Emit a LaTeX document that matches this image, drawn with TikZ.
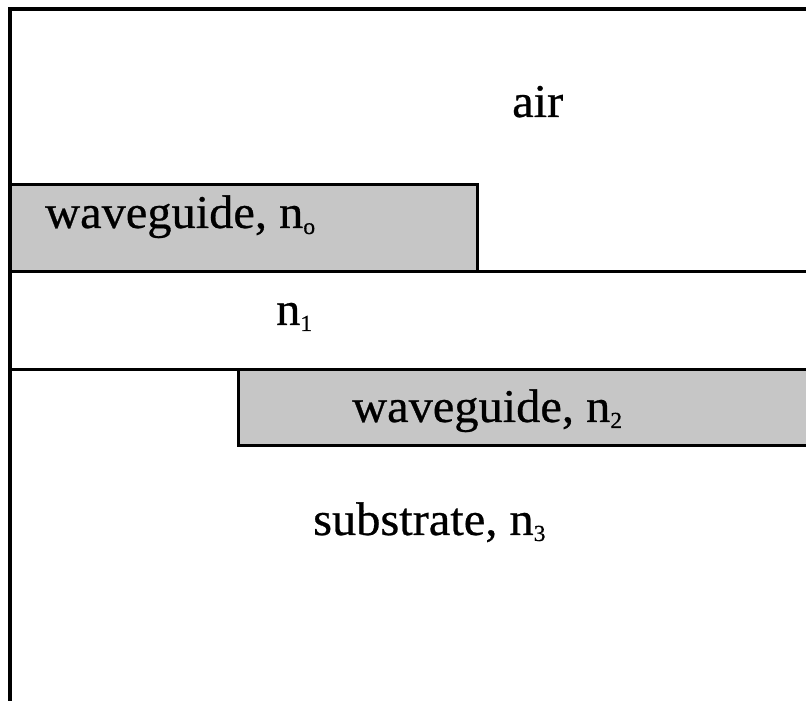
\documentclass[tikz,border=0pt]{standalone}
\usepackage{fontspec}
\setmainfont{Liberation Serif}[FakeBold=0.6,FakeStretch=1.03]
\definecolor{guidegray}{RGB}{198,198,198}
% small lowered index used in the layer labels
\newcommand{\idx}[1]{\raisebox{-6pt}{\fontsize{23}{23}\selectfont #1}}
\begin{document}
\begin{tikzpicture}[x=1pt,y=1pt,
  frameline/.style={line width=4pt},
  layerline/.style={line width=3pt},
  guide/.style={fill=guidegray},
  lbl/.style={anchor=base west,inner sep=0pt,font=\fontsize{47}{56}\selectfont}]
  \useasboundingbox (0,0) rectangle (806,701);
  % waveguide n_o (upper guide, against the left wall)
  \fill[guide] (10,429) rectangle (477,516);
  \draw[layerline] (10,516) -- (477,516) -- (477,429);
  % waveguide n_2 (lower guide, running off to the right)
  \fill[guide] (238,255) rectangle (806,331);
  \draw[layerline] (806,331) -- (238,331) -- (238,255) -- (806,255);
  % layer boundaries across the full width
  \draw[layerline] (10,429) -- (806,429);
  \draw[layerline] (10,331) -- (806,331);
  % outer frame: top and left walls
  \draw[frameline] (806,692) -- (10,692) -- (10,0);
  % labels
  \node[lbl] (air) at (512,584) {air};
  \node[lbl] (wg0) at (45,473) {waveguide, n\idx{o}};
  \node[lbl] (n1) at (276,376) {n\idx{1}};
  \node[lbl] (wg2) at (352,279) {waveguide, n\idx{2}};
  \node[lbl] (sub) at (313,166) {substrate, n\idx{3}};
\end{tikzpicture}
\end{document}
